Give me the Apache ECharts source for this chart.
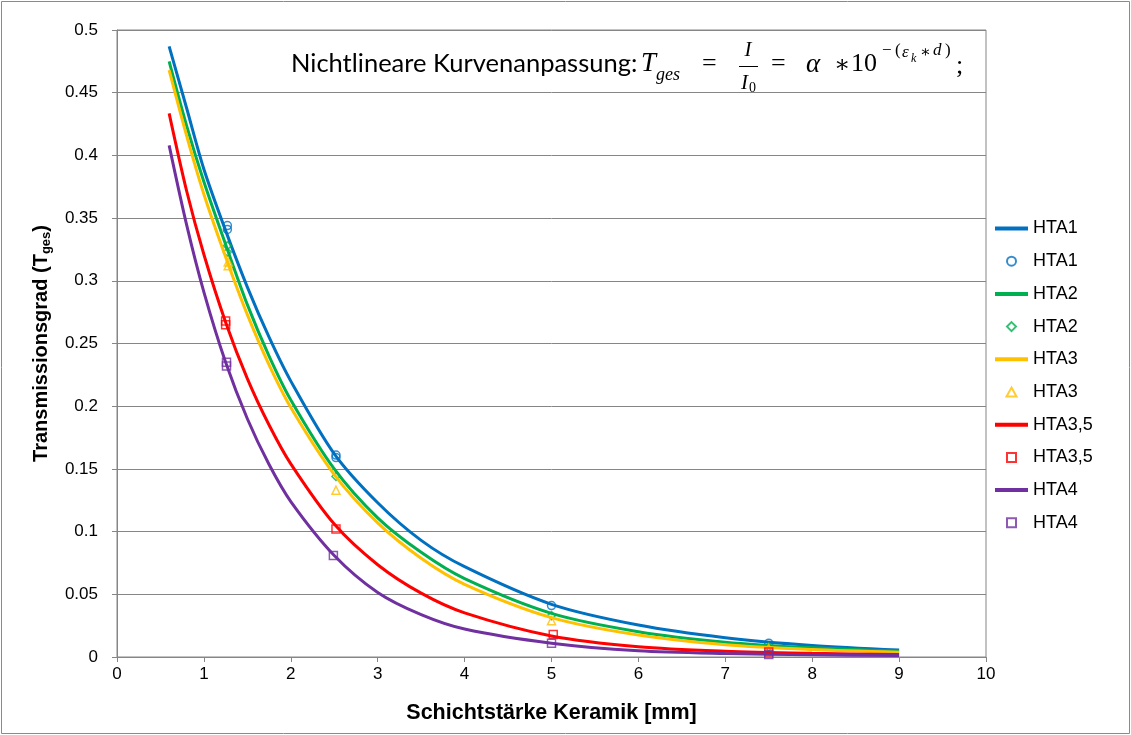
<!DOCTYPE html>
<html>
<head>
<meta charset="utf-8">
<script src="https://cdn.jsdelivr.net/npm/echarts@6/dist/echarts.min.js"></script>
<style>
  html, body { margin: 0; padding: 0; background: #fff; }
  #chart { width: 1131px; height: 735px; }
</style>
</head>
<body>
<div id="chart"></div>
<script>
// Fitted transmission curves T_ges(d), d = ceramic thickness in mm
const hta1Fit = [[0.6,0.487],[0.8,0.438],[1.0,0.389],[1.25,0.340],[1.5,0.295],[1.75,0.255],[2.0,0.220],[2.5,0.162],[3.0,0.123],[3.5,0.093],[4.0,0.072],[5.0,0.042],[6.0,0.0255],[7.0,0.0154],[8.0,0.0092],[9.0,0.0055]];
const hta2Fit = [[0.6,0.475],[0.8,0.424],[1.0,0.379],[1.25,0.329],[1.5,0.281],[1.75,0.240],[2.0,0.205],[2.5,0.150],[3.0,0.111],[3.5,0.0835],[4.0,0.0625],[5.0,0.0348],[6.0,0.0202],[7.0,0.0118],[8.0,0.0073],[9.0,0.0046]];
const hta3Fit = [[0.6,0.468],[0.8,0.416],[1.0,0.369],[1.25,0.319],[1.5,0.273],[1.75,0.233],[2.0,0.199],[2.5,0.1455],[3.0,0.107],[3.5,0.0788],[4.0,0.058],[5.0,0.0314],[6.0,0.0175],[7.0,0.0098],[8.0,0.0060],[9.0,0.0038]];
const hta35Fit = [[0.6,0.4335],[0.8,0.372],[1.0,0.321],[1.25,0.267],[1.5,0.222],[1.75,0.185],[2.0,0.154],[2.5,0.106],[3.0,0.0736],[3.5,0.0509],[4.0,0.0352],[5.0,0.0168],[6.0,0.0082],[7.0,0.0046],[8.0,0.0029],[9.0,0.0019]];
const hta4Fit = [[0.6,0.408],[0.8,0.345],[1.0,0.291],[1.25,0.235],[1.5,0.190],[1.75,0.1535],[2.0,0.124],[2.5,0.081],[3.0,0.0515],[3.5,0.0338],[4.0,0.0223],[5.0,0.011],[6.0,0.005],[7.0,0.0028],[8.0,0.0017],[9.0,0.0012]];

// Measured values
const hta1Pts = [[1.27,0.344],[1.27,0.341],[2.52,0.161],[2.52,0.159],[5.0,0.041],[7.5,0.011]];
const hta2Pts = [[1.27,0.328],[1.27,0.323],[2.52,0.144],[5.0,0.033],[7.5,0.008]];
const hta3Pts = [[1.28,0.315],[1.28,0.312],[2.52,0.133],[5.0,0.029],[7.5,0.007]];
const hta35Pts = [[1.25,0.268],[1.25,0.265],[2.52,0.102],[5.02,0.018],[7.5,0.004]];
const hta4Pts = [[1.26,0.235],[1.26,0.232],[2.49,0.081],[5.0,0.011],[7.5,0.002]];

const seriesNames = ['HTA1', 'HTA2', 'HTA3', 'HTA3,5', 'HTA4'];
const seriesColors = ['#0070C0', '#00B050', '#FFC000', '#FF0000', '#7030A0'];
const markerSymbols = ['circle', 'diamond', 'triangle', 'rect', 'rect'];
// legend glyphs drawn as square-proportioned paths so they keep their shape
const legendMarkers = [
  'circle',
  'path://M5,0 L10,5 L5,10 L0,5 Z',
  'path://M5,0 L10,9 L0,9 Z',
  'path://M0,0 L10,0 L10,10 L0,10 Z',
  'path://M0,0 L10,0 L10,10 L0,10 Z'
];
const legendLine = 'path://M0,0 L33,0 L33,4 L0,4 Z';
const fitData = [hta1Fit, hta2Fit, hta3Fit, hta35Fit, hta4Fit];
const pointData = [hta1Pts, hta2Pts, hta3Pts, hta35Pts, hta4Pts];

const xRange = [0, 10, 1];
const yRange = [0, 0.5, 0.05];

const sans = '"Liberation Sans", Arial, sans-serif';
const serif = '"Liberation Serif", "DejaVu Serif", serif';
const labelFont = 'Lato, "Open Sans", sans-serif';

const series = [];
const legendItems = [];
seriesNames.forEach((name, i) => {
  series.push({
    name: name,
    type: 'line',
    data: fitData[i],
    smooth: 0.3,
    symbol: 'none',
    lineStyle: { color: seriesColors[i], width: 3 },
    itemStyle: { color: seriesColors[i] },
    z: 2 + i * 2
  });
  series.push({
    name: name + ' Messwerte',
    type: 'scatter',
    data: pointData[i],
    symbol: markerSymbols[i],
    symbolSize: 8,
    itemStyle: { color: 'rgba(255,255,255,0)', borderColor: seriesColors[i], borderWidth: 1.5 },
    z: 3 + i * 2
  });
  legendItems.push({ name: name, icon: legendLine });
  legendItems.push({ name: name + ' Messwerte', icon: legendMarkers[i] });
});

// Equation text block
function txt(text, x, y, size, extra) {
  return {
    type: 'text', x: x, y: y, silent: true,
    style: Object.assign({
      text: text, fill: '#000', fontSize: size, fontFamily: serif,
      textAlign: 'left', textVerticalAlign: 'middle'
    }, extra || {})
  };
}
const it = { fontStyle: 'italic' };
const eq = [
  txt('Nichtlineare Kurvenanpassung:', 291, 64, 25.5, { fontFamily: labelFont }),
  txt('T', 641, 64, 27, it),
  txt('ges', 656, 75, 18, it),
  txt('=', 702, 64, 26),
  txt('I', 748, 50, 21, Object.assign({ textAlign: 'center' }, it)),
  { type: 'line', silent: true, shape: { x1: 739, y1: 66.5, x2: 758, y2: 66.5 }, style: { stroke: '#000', lineWidth: 1 } },
  txt('I', 741, 83, 21, it),
  txt('0', 749, 88, 14),
  txt('=', 771, 64, 26),
  txt('α', 806, 65, 27, it),
  txt('∗', 834, 66, 24),
  txt('10', 851, 64, 26),
  txt('−', 882, 51, 17),
  txt('(', 895, 51, 17),
  txt('ε', 902, 53, 17, it),
  txt('k', 911, 59, 12, it),
  txt('∗', 920, 53, 16),
  txt('d', 933, 51, 17, it),
  txt(')', 945, 51, 17),
  txt(';', 956, 66, 26)
];

const chart = echarts.init(document.getElementById('chart'), null, { renderer: 'canvas' });
chart.setOption({
  animation: false,
  backgroundColor: '#fff',
  grid: { left: 117, right: 145, top: 30, bottom: 78, show: true, borderColor: '#868686', borderWidth: 1 },
  xAxis: {
    type: 'value', min: xRange[0], max: xRange[1], interval: xRange[2],
    name: 'Schichtstärke Keramik [mm]', nameLocation: 'middle', nameGap: 45,
    nameTextStyle: { fontFamily: sans, fontSize: 21.5, fontWeight: 'bold', color: '#000' },
    axisLine: { lineStyle: { color: '#868686', width: 1 } },
    axisTick: { show: true, length: 5, lineStyle: { color: '#868686' } },
    axisLabel: { fontFamily: sans, fontSize: 17, color: '#000', margin: 9 },
    splitLine: { show: false }
  },
  yAxis: {
    type: 'value', min: yRange[0], max: yRange[1], interval: yRange[2],
    name: '{a|Transmissionsgrad (T}{s|ges}{a|)}', nameLocation: 'middle', nameRotate: 90, nameGap: 64,
    nameTextStyle: {
      rich: {
        a: { fontFamily: sans, fontSize: 20, fontWeight: 'bold', color: '#000', lineHeight: 24 },
        s: { fontFamily: sans, fontSize: 13, fontWeight: 'bold', color: '#000', lineHeight: 24, verticalAlign: 'bottom', padding: [9, 0, 0, 0] }
      }
    },
    axisLine: { show: true, lineStyle: { color: '#868686', width: 1 } },
    axisTick: { show: true, length: 5, lineStyle: { color: '#868686' } },
    axisLabel: { fontFamily: sans, fontSize: 17, color: '#000', margin: 19 },
    splitLine: { show: true, lineStyle: { color: '#868686', width: 1 } }
  },
  legend: {
    orient: 'vertical', left: 995, top: 218, padding: 0,
    itemWidth: 33, itemHeight: 9, itemGap: 11.7,
    data: legendItems,
    formatter: n => n.split(' ')[0],
    textStyle: { fontFamily: sans, fontSize: 18, color: '#000', lineHeight: 21 },
    selectedMode: false
  },
  graphic: [
    { type: 'rect', silent: true, shape: { x: 1.5, y: 1.5, width: 1128, height: 732 }, style: { fill: 'none', stroke: '#8a8a8a', lineWidth: 1 } }
  ].concat(eq),
  series: series
});
</script>
</body>
</html>
